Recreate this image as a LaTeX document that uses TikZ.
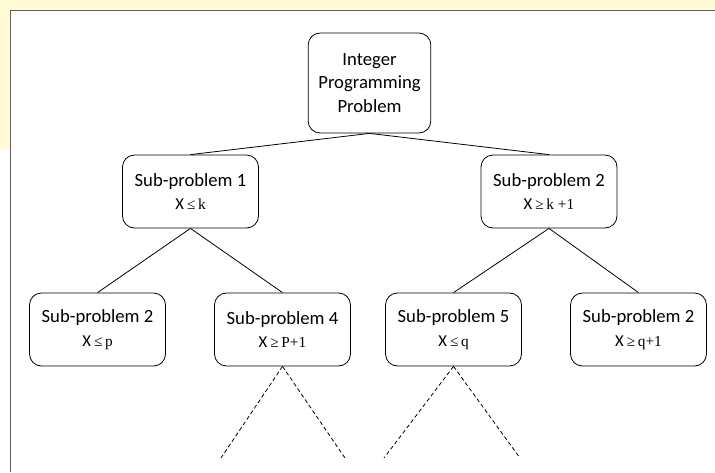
\documentclass[tikz,border=0pt]{standalone}
\usepackage{fontspec}
\setmainfont{Carlito}
\newfontfamily\tmsfont{Liberation Serif}
\usetikzlibrary{positioning}
\definecolor{markyellow}{RGB}{255,251,212}
\definecolor{framegray}{RGB}{95,95,95}
% bound on X: relation and right-hand side
\newcommand{\xbound}[2]{{\fontsize{12.5}{14}\selectfont X}\,{\tmsfont\fontsize{11.5}{14}\selectfont #1\,#2}}

\begin{document}
\begin{tikzpicture}[x=0.75pt, y=-0.75pt, every node/.style={font=\fontsize{14}{17.5}\selectfont},
  probbox/.style={draw, rounded corners=9pt, line width=0.6pt, minimum width=102pt, minimum height=54.75pt, align=center, inner sep=2pt},
  branch/.style={line width=0.6pt},
  openbranch/.style={line width=0.6pt, dash pattern=on 3pt off 2pt}]
  \useasboundingbox (0,0) rectangle (715,472);
  % page background and frame
  \fill[markyellow] (0,0) rectangle (715,10);
  \fill[markyellow] (0,0) rectangle (10,150);
  \draw[framegray, line width=1.1pt] (10.5,472) -- (10.5,10.5) -- (715,10.5);
  % tree
  \node[probbox, minimum width=92pt, minimum height=75pt] (root) at (369.5,83) {Integer\\Programming\\Problem};
  \node[probbox] (sp1) at (190.5,191.5) {Sub-problem 1\\\xbound{≤}{k}};
  \node[probbox] (sp2) at (549,191.5) {Sub-problem 2\\\xbound{≥}{k +1}};
  \node[probbox] (sp2a) at (97.5,329.5) {Sub-problem 2\\\xbound{≤}{p}};
  \node[probbox] (sp4) at (282.5,329.5) {Sub-problem 4\\\xbound{≥}{P+1}};
  \node[probbox] (sp5) at (453.5,329.5) {Sub-problem 5\\\xbound{≤}{q}};
  \node[probbox] (sp2b) at (638.5,329.5) {Sub-problem 2\\\xbound{≥}{q+1}};
  \coordinate (open4l) at (221,458);
  \coordinate (open4r) at (345,458);
  \coordinate (open5l) at (384,458);
  \coordinate (open5r) at (520,458);
  \foreach \up/\kid in {root/sp1,root/sp2,sp1/sp2a,sp1/sp4,sp2/sp5,sp2/sp2b}
    \draw[branch] (\up.south) -- (\kid.north);
  \foreach \up/\kid in {sp4/open4l,sp4/open4r,sp5/open5l,sp5/open5r}
    \draw[openbranch] (\up.south) -- (\kid);
\end{tikzpicture}
\end{document}
